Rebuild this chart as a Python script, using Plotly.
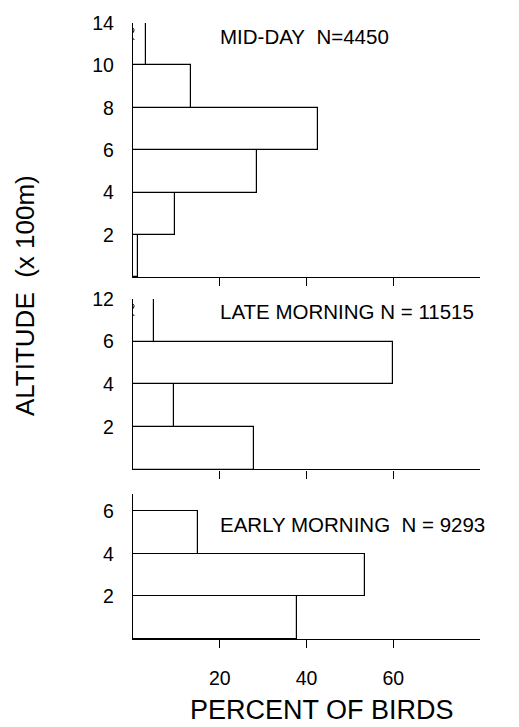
import plotly.graph_objects as go

# ---- data (altitude bins in units of 100 m; displayed positions on broken axis) ----
mid_bin_low = [0, 2, 4, 6, 8, 10]
mid_bin_high = [2, 4, 6, 8, 10, 12]          # top bin shown as 10-14 (axis break)
mid_pct = [1.1, 9.7, 28.7, 42.7, 13.3, 2.9]
mid_ticks = [2, 4, 6, 8, 10, 12]
mid_ticklabels = ["2", "4", "6", "8", "10", "14"]

late_bin_low = [0, 2, 4, 6]
late_bin_high = [2, 4, 6, 8]                 # top bin shown as 6-12 (axis break)
late_pct = [27.9, 9.5, 60.0, 4.9]
late_ticks = [2, 4, 6, 8]
late_ticklabels = ["2", "4", "6", "12"]

early_bin_low = [0, 2, 4]
early_bin_high = [2, 4, 6]
early_pct = [37.9, 53.6, 14.9]
early_ticks = [2, 4, 6]
early_ticklabels = ["2", "4", "6"]

x_ticks = [20, 40, 60]
x_ticklabels = ["20", "40", "60"]

panel_labels = ["MID-DAY&nbsp;&nbsp;N=4450", "LATE MORNING N = 11515",
                "EARLY MORNING&nbsp;&nbsp;N = 9293"]

FONT = "Liberation Sans, Arial, sans-serif"

fig = go.Figure()

panels = [
    (mid_bin_low, mid_bin_high, mid_pct, "x", "y"),
    (late_bin_low, late_bin_high, late_pct, "x2", "y2"),
    (early_bin_low, early_bin_high, early_pct, "x3", "y3"),
]
for lo, hi, pct, xa, ya in panels:
    centers = [(a + b) / 2 for a, b in zip(lo, hi)]
    widths = [b - a for a, b in zip(lo, hi)]
    fig.add_trace(go.Bar(
        x=pct, y=centers, width=widths, orientation="h",
        marker=dict(color="white", line=dict(color="black", width=1.2)),
        xaxis=xa, yaxis=ya, showlegend=False,
    ))

xcommon = dict(range=[0, 80], showline=True, linecolor="black", linewidth=1.3,
               ticks="outside", tickvals=x_ticks, ticklen=8, tickwidth=1.3,
               tickcolor="black", showgrid=False, zeroline=False)
ycommon = dict(showline=True, linecolor="black", linewidth=1.3, ticks="",
               showgrid=False, zeroline=False, ticklabelstandoff=14,
               tickfont=dict(family=FONT, size=19.5, color="black"))

fig.update_layout(
    width=519, height=727,
    margin=dict(l=133, r=39, t=14, b=88),
    plot_bgcolor="white", paper_bgcolor="white",
    bargap=0,
    xaxis=dict(**xcommon, anchor="y", showticklabels=False),
    xaxis2=dict(**xcommon, anchor="y2", showticklabels=False, matches="x"),
    xaxis3=dict(**xcommon, anchor="y3", ticktext=x_ticklabels, ticklabelstandoff=13,
                tickfont=dict(family=FONT, size=19.5, color="black")),
    yaxis=dict(**ycommon, domain=[0.5872, 1.0], range=[0, 12],
               tickvals=mid_ticks, ticktext=mid_ticklabels, anchor="x"),
    yaxis2=dict(**ycommon, domain=[0.2752, 0.552], range=[0, 8],
                tickvals=late_ticks, ticktext=late_ticklabels, anchor="x2"),
    yaxis3=dict(**ycommon, domain=[0.0, 0.2352], range=[0, 6.8],
                tickvals=early_ticks, ticktext=early_ticklabels, anchor="x3"),
)

# axis-break marks on the y axes of the top two panels
for xa, ya, yb in [("x", "y", 11.5), ("x2", "y2", 7.5)]:
    fig.add_shape(type="line", xref=xa, yref=ya,
                  x0=0, x1=0, y0=yb - 0.35, y1=yb + 0.35,
                  line=dict(color="white", width=4))
    fig.add_shape(type="path", xref=xa, yref=ya,
                  path=f"M -0.6,{yb + 0.35} Q 0.7,{yb + 0.2} 0,{yb + 0.05} Q -0.7,{yb - 0.1} 0.3,{yb - 0.3}",
                  line=dict(color="black", width=1))

label_pos = [("x", "y", 11.35), ("x2", "y2", 7.4), ("x3", "y3", 5.37)]
for text, (xa, ya, yy) in zip(panel_labels, label_pos):
    fig.add_annotation(text=text, xref=xa, yref=ya, x=19.7, y=yy, xanchor="left",
                       yanchor="middle", showarrow=False,
                       font=dict(family=FONT, size=20.5, color="black"))

fig.add_annotation(text="ALTITUDE&nbsp;&nbsp;(x 100m)", xref="paper", yref="paper",
                   x=(25 - 133) / 347, y=1 - (291 - 14) / 625, textangle=-90,
                   xanchor="center", yanchor="middle", showarrow=False,
                   font=dict(family=FONT, size=26, color="black"))
fig.add_annotation(text="PERCENT OF BIRDS", xref="paper", yref="paper",
                   x=(322 - 133) / 347, y=-(711 - 639) / 625,
                   xanchor="center", yanchor="middle", showarrow=False,
                   font=dict(family=FONT, size=27, color="black"))

fig.write_html("out.html")
